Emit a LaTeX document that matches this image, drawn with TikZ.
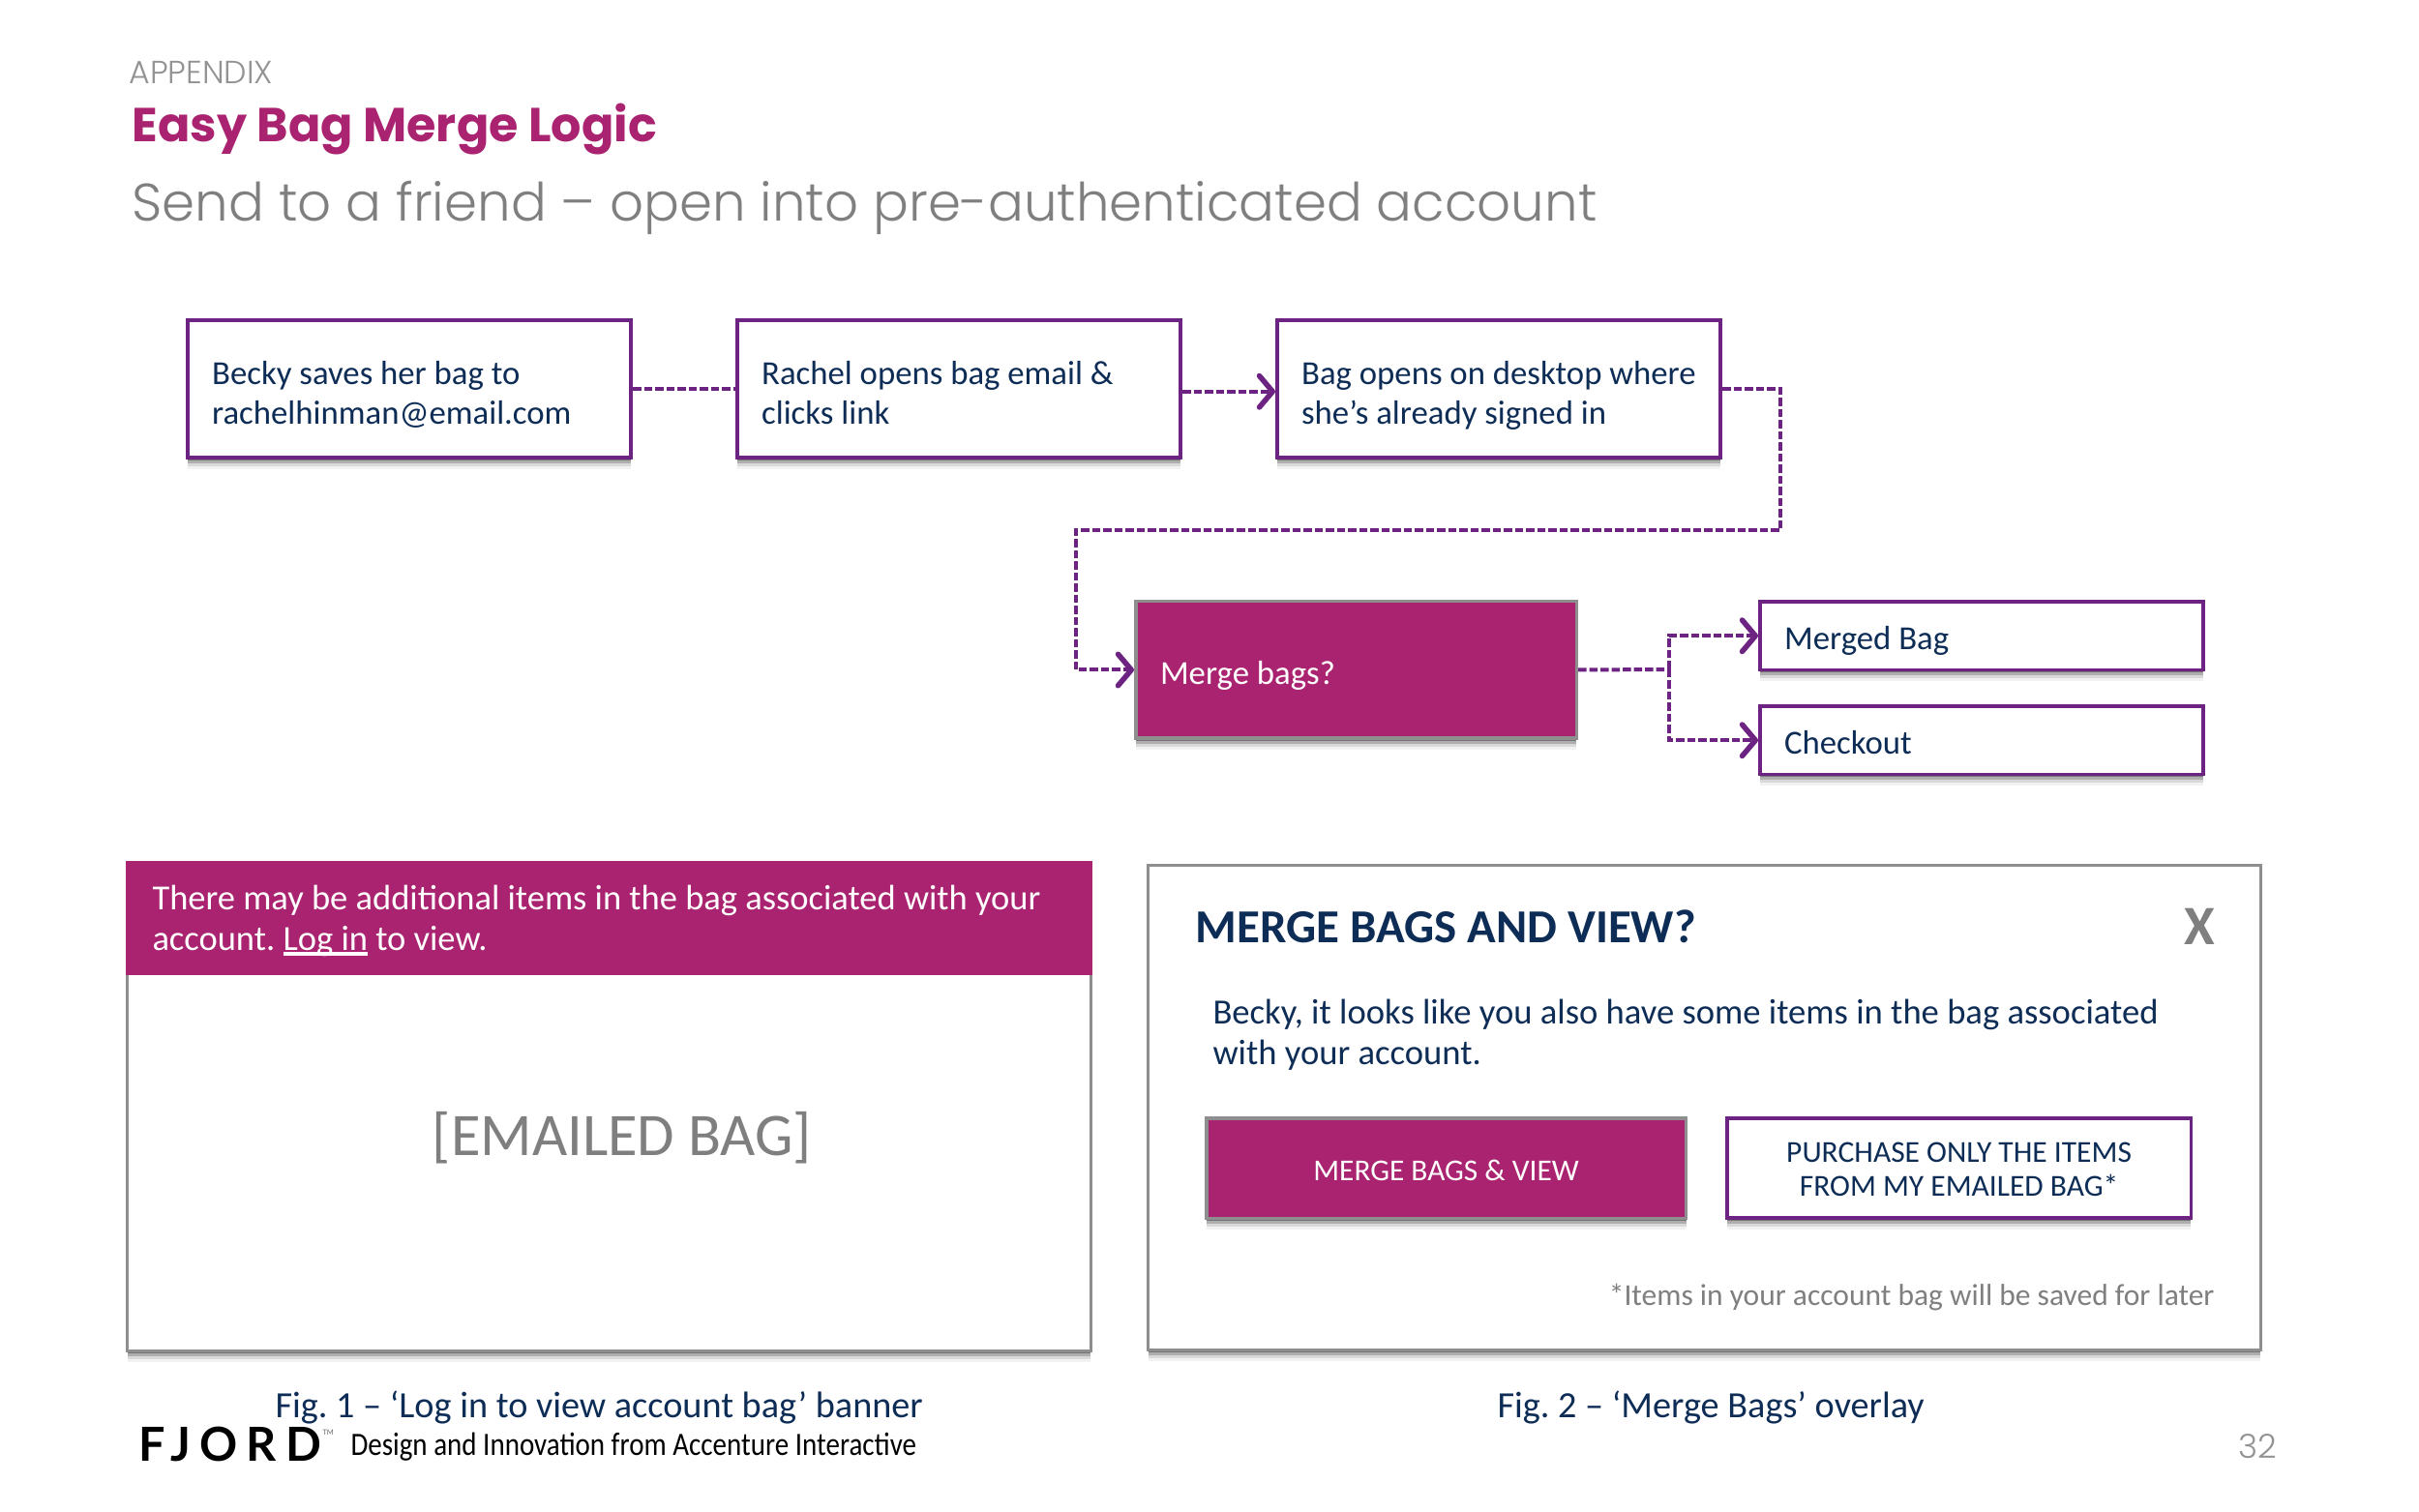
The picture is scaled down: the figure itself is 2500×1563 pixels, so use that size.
\documentclass[tikz,border=0pt]{standalone}
\usepackage{fontspec}
\setmainfont{Carlito}
\newfontfamily\gotham{Poppins}
\newfontfamily\gothamlight{Poppins Light}
\newfontfamily\logofont{Lato}
\usetikzlibrary{arrows.meta,shadows,calc}
\definecolor{brandpurple}{HTML}{6C2381}
\definecolor{brandmagenta}{HTML}{AA2370}
\definecolor{navyink}{HTML}{0E2D56}
\definecolor{midgray}{HTML}{7F7F7F}
\definecolor{framegray}{HTML}{8E8E8E}
\newdimen\pxu \pxu=0.4pt
\newcommand\hgt[1]{\rule{0pt}{#1\pxu}}
\newcommand\dpt[1]{\rule[-#1\pxu]{0pt}{#1\pxu}}
\newcommand\loginlink{\setbox0\hbox{Log in}\rlap{\rule[-1.9pt]{\wd0}{1.3pt}}\box0{}}
\tikzset{
  softshadow/.style={
    drop shadow={shadow xshift=0pt,shadow yshift=-1pt,fill=black,opacity=.32},
    drop shadow={shadow xshift=0pt,shadow yshift=-2.2pt,fill=black,opacity=.2},
    drop shadow={shadow xshift=0pt,shadow yshift=-3.4pt,fill=black,opacity=.1},
    drop shadow={shadow xshift=0pt,shadow yshift=-4.6pt,fill=black,opacity=.05}},
  anybox/.style={rectangle,inner ysep=0pt,inner xsep=10.1pt,anchor=north west,align=flush left,
    font=\fontsize{13.9}{16.4}\selectfont,softshadow},
  flowbox/.style={anybox,draw=brandpurple,line width=1.5pt,fill=white,text=navyink,text width=163.1pt},
  magbox/.style={anybox,draw=framegray,line width=1.4pt,fill=brandmagenta,text=white,text width=162pt},
  btnmag/.style={anybox,draw=framegray,line width=1.4pt,fill=brandmagenta,text=white,align=center,inner xsep=0pt,font=\fontsize{12.55}{14}\selectfont},
  btnflow/.style={anybox,draw=brandpurple,line width=1.5pt,fill=white,text=navyink,align=center,inner xsep=0pt,font=\fontsize{12.6}{14}\selectfont},
  panel/.style={rectangle,anchor=north west,draw=framegray,line width=1.2pt,fill=white,softshadow,inner sep=0pt},
  link/.style={draw=brandpurple,line width=1.6pt,dash pattern=on 3.4pt off 1.2pt},
  linkhead/.style={link,-{Straight Barb[length=5.5pt,width=13pt,line width=2.2pt,round]}},
  txt/.style={anchor=base west,inner sep=0pt,text=navyink},
}
\frenchspacing
\begin{document}
\begin{tikzpicture}[x=0.4pt,y=-0.4pt]
\useasboundingbox (0,0) rectangle (2500,1563);
% headings
\node[txt,text=midgray!85] (appendix) at (133,86.5) {\gothamlight\fontsize{13.25}{15}\selectfont APPENDIX};
\node[txt,text=brandmagenta] (title) at (136,147) {\gotham\bfseries\fontsize{19.7}{24}\selectfont Easy Bag Merge Logic};
\node[txt,text=midgray] (subtitle) at (136,228.5) {\gothamlight\fontsize{21.85}{28}\selectfont Send to a friend – open into pre-authenticated account};
% flow
\node[flowbox,minimum height=56.7pt] (b1) at (192,329.5) {\hgt{41}Becky saves her bag to\\rachelhinman@email.com\dpt{10}};
\node[flowbox,minimum height=56.7pt] (b2) at (760,329.5) {\hgt{41}Rachel opens bag email \&\\clicks link\dpt{10}};
\node[flowbox,minimum height=56.7pt] (b3) at (1318,329.5) {\hgt{41}\mbox{Bag opens on desktop where}\\she’s already signed in\dpt{10}};
\node[magbox,minimum height=56.6pt] (merge) at (1172,620) {\hgt{40}Merge bags?\dpt{10}};
\node[flowbox,minimum height=28.3pt] (merged) at (1817,620) {\hgt{39}Merged Bag\dpt{10}};
\node[flowbox,minimum height=28.3pt] (checkout) at (1817,728) {\hgt{39}Checkout\dpt{10}};
\coordinate (c1) at (1840,548);
\coordinate (c2) at (1112,548);
\coordinate (j) at (1725,692);
\draw[link] (b1.east) -- (b2.west);
\draw[linkhead] ([yshift=-1pt]b2.east) -- ([yshift=-1pt]b3.west);
\draw[linkhead] (b3.east) -| (c1) -- (c2) |- (merge.west);
\draw[link] (merge.east) -- (j);
\draw[linkhead] (j) |- (merged.west);
\draw[linkhead] (j) |- (checkout.west);
% figure 1
\node[panel,minimum width=398.2pt,minimum height=201.8pt] (fig1) at (130,890) {};
\node[rectangle,anchor=north west,fill=brandmagenta,minimum width=399.4pt,minimum height=47.3pt,inner sep=0pt] (banner) at (129.5,889.5) {};
\node[txt,text=white] (bannertext) at (157,941) {\fontsize{14.6}{16.8}\selectfont There may be additional items in the bag associated with your};
\node[txt,text=white] (bannertext2) at (157,983) {\fontsize{14.6}{16.8}\selectfont account. \loginlink{} to view.};
\node[anchor=base,inner sep=0pt,text=midgray] (emailed) at (643,1194) {\fontsize{25}{30}\selectfont [EMAILED BAG]};
% figure 2
\node[panel,minimum width=459.8pt,minimum height=200.4pt] (fig2) at (1185,893) {};
\node[txt] (mtitle) at (1235,974) {\bfseries\fontsize{19.55}{23}\selectfont MERGE BAGS AND VIEW?};
\node[anchor=base,inner sep=0pt,text=midgray] (close) at (2273,977) {\bfseries\fontsize{23}{26}\selectfont X};
\node[txt] (para1) at (1253,1059) {\fontsize{14.65}{18}\selectfont Becky, it looks like you also have some items in the bag associated};
\node[txt] (para2) at (1253,1100.5) {\fontsize{14.65}{18}\selectfont with your account.};
\node[btnmag,minimum width=198.3pt,minimum height=41.4pt] (mbtn) at (1245,1154) {\hgt{36}MERGE BAGS \& VIEW\dpt{10}};
\node[btnflow,minimum width=191.8pt,minimum height=41.3pt] (pbtn) at (1783,1154) {\hgt{33}PURCHASE ONLY THE ITEMS\\FROM MY EMAILED BAG*\dpt{10}};
\node[anchor=base east,inner sep=0pt,text=midgray] (note) at (2289,1349) {\fontsize{12.6}{15}\selectfont *Items in your account bag will be saved for later};
% captions and footer
\node[txt] (cap1) at (284,1465) {\fontsize{15.3}{18}\selectfont Fig. 1 – ‘Log in to view account bag’ banner};
\node[txt] (cap2) at (1547,1465) {\fontsize{15.3}{18}\selectfont Fig. 2 – ‘Merge Bags’ overlay};
\node[txt,text=black] (fjord) at (143,1510) {\logofont\bfseries\fontsize{19.4}{21}\selectfont\addfontfeature{LetterSpace=19}FJORD};
\node[txt,text=black!60] (tm) at (333,1483) {\logofont\fontsize{3}{4}\selectfont TM};
\node[txt,text=black] (tagline) at (362,1504) {\fontspec{Carlito}[FakeStretch=0.86]\fontsize{13.5}{15}\selectfont Design and Innovation from Accenture Interactive};
\node[txt,text=midgray!85] (page) at (2313,1507) {\gothamlight\fontsize{13.7}{15}\selectfont 32};
\end{tikzpicture}
\end{document}
